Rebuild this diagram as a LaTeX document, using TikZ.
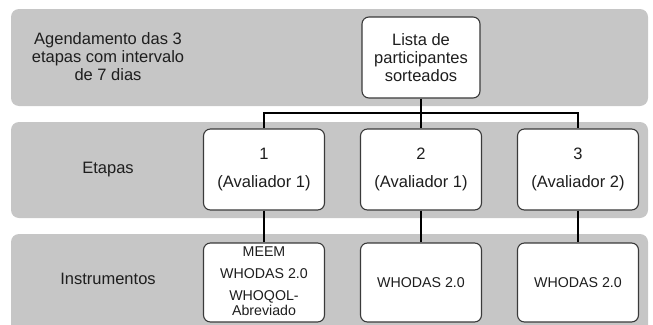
\documentclass[tikz,border=0pt]{standalone}
\usepackage{fontspec}
\setmainfont{Liberation Sans}
\definecolor{bandgray}{HTML}{C6C6C6}
\definecolor{boxline}{HTML}{3A3A3A}
\definecolor{txt}{HTML}{1E1E1E}
\begin{document}
\begin{tikzpicture}[x=1pt,y=-1pt,
  band/.style={fill=bandgray,draw=none,rounded corners=8pt},
  box/.style={draw=boxline,fill=white,rounded corners=7pt,line width=1.1pt,
    minimum width=121pt,minimum height=81pt,align=center,inner sep=0pt,
    text=txt,font=\fontsize{16.5}{18}\selectfont},
  ibox/.style={box,minimum height=79pt,font=\fontsize{14.2}{22}\selectfont},
  lbl/.style={align=center,text=txt,inner sep=0pt,font=\fontsize{16.5}{18}\selectfont},
  conn/.style={draw=black,line width=1.1pt}]
\useasboundingbox (0,0) rectangle (653,324);
\clip (0,0) rectangle (653,324);
% bands
\path[band] (11,9) rectangle (648,106);
\path[band] (11,122) rectangle (648,218);
\path[band] (11,234) rectangle (648,345);
% labels
\node[lbl] (l1) at (108,57) {Agendamento das 3\\etapas com intervalo\\de 7 dias};
\node[lbl] (l2) at (108,170) {Etapas};
\node[lbl] (l3) at (108,279) {Instrumentos};
% top box
\node[box,minimum width=118pt] (top) at (421,57.5) {Lista de\\participantes\\sorteados};
% stage boxes
\node[box,font=\fontsize{16.5}{28}\selectfont] (s1) at (264,169.5) {1\\(Avaliador 1)};
\node[box,font=\fontsize{16.5}{28}\selectfont] (s2) at (421,169.5) {2\\(Avaliador 1)};
\node[box,font=\fontsize{16.5}{28}\selectfont] (s3) at (578,169.5) {3\\(Avaliador 2)};
% instrument boxes
\node[ibox] (i1) at (264,282.5) {};
\node[text=txt,align=center,inner sep=0pt,font=\fontsize{14.2}{22}\selectfont] (i1t) at (264,281)
  {MEEM\\WHODAS 2.0\\WHOQOL-\\[-7.5pt]Abreviado};
\node[ibox] (i2) at (421,282.5) {WHODAS 2.0};
\node[ibox] (i3) at (578,282.5) {WHODAS 2.0};
% connectors
\coordinate (bus) at (421,113);
\draw[conn] (top.south) -- (bus);
\draw[conn] (s1.north) |- (bus) -| (s3.north);
\draw[conn] (bus) -- (s2.north);
\draw[conn] (s1.south) -- (i1.north);
\draw[conn] (s2.south) -- (i2.north);
\draw[conn] (s3.south) -- (i3.north);
\end{tikzpicture}
\end{document}
